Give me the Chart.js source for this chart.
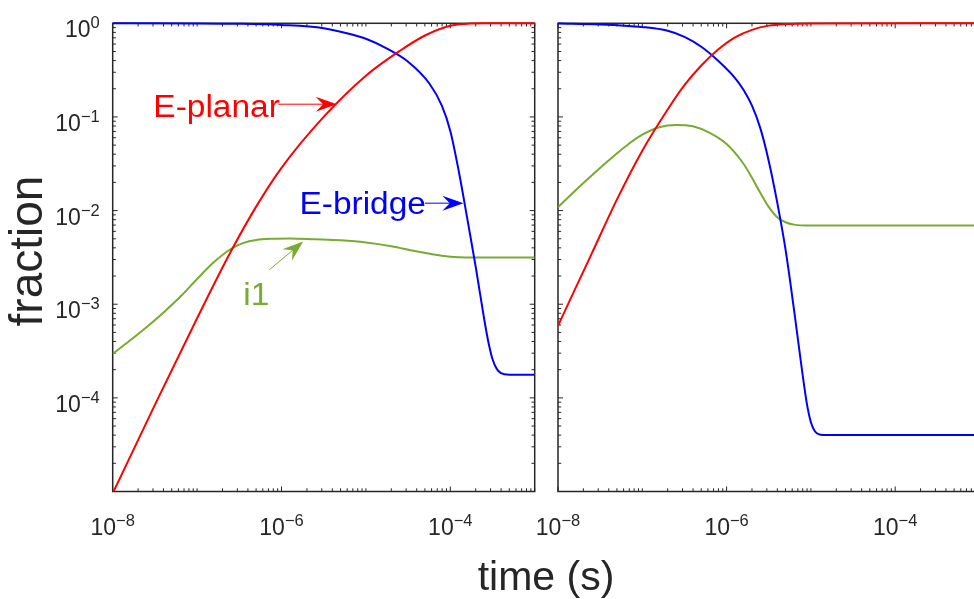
<!DOCTYPE html>
<html>
<head>
<meta charset="utf-8">
<script src="https://cdn.jsdelivr.net/npm/chart.js@4.4.1/dist/chart.umd.min.js"></script>
<style>
  html, body { margin: 0; padding: 0; overflow: hidden; background: #fff; width: 974px; height: 599px; }
  canvas { position: absolute; top: 0; }
  #left { left: 0; }
  #right { left: 520px; }
</style>
</head>
<body>
<canvas id="left" width="974" height="599"></canvas>
<canvas id="right" width="470" height="599"></canvas>
<script>
// tick labels (powers of ten)
const xTickExps = [-8, -6, -4];
const yTickExps = [0, -1, -2, -3, -4];

// left panel
const planarT1 = [1e-8, 3.16e-8, 1e-7, 2.51e-7, 5.01e-7, 1e-6, 3.16e-6, 1e-5, 2.51e-5, 5.01e-5, 1e-4, 1.585e-4, 2.51e-4, 1e-3];
const planarF1 = [9.55e-6, 8.41e-5, 7.08e-4, 3.65e-3, 0.01102, 0.02858, 0.1, 0.2754, 0.5058, 0.741, 0.9419, 0.9886, 1, 1];
const bridgeT1 = [1e-8, 1e-7, 3.16e-7, 1e-6, 3.16e-6, 5.62e-6, 1e-5, 1.78e-5, 3.16e-5, 5.62e-5, 7.94e-5, 1e-4, 1.26e-4, 1.585e-4, 2e-4, 2.51e-4, 2.82e-4, 3.16e-4, 3.55e-4, 3.98e-4, 5.01e-4, 1e-3];
const bridgeF1 = [1, 0.998, 0.989, 0.959, 0.887, 0.794, 0.684, 0.537, 0.389, 0.229, 0.132, 0.0708, 0.0263, 8.32e-3, 2.51e-3, 7.08e-4, 3.98e-4, 2.6e-4, 2.04e-4, 1.84e-4, 1.77e-4, 1.77e-4];
const i1T1 = [1e-8, 1.585e-8, 2.51e-8, 3.98e-8, 6.31e-8, 1e-7, 1.585e-7, 2.51e-7, 3.55e-7, 5.01e-7, 7.94e-7, 1.26e-6, 2.51e-6, 5.01e-6, 1e-5, 2e-5, 3.98e-5, 7.94e-5, 1.26e-4, 2e-4, 1e-3];
const i1F1 = [2.95e-4, 4.07e-4, 5.69e-4, 8.13e-4, 1.2e-3, 1.86e-3, 2.82e-3, 3.89e-3, 4.52e-3, 4.86e-3, 5.01e-3, 5.04e-3, 4.93e-3, 4.81e-3, 4.57e-3, 4.17e-3, 3.67e-3, 3.3e-3, 3.18e-3, 3.16e-3, 3.16e-3];

// right panel
const planarT2 = [1e-8, 2.51e-8, 5.01e-8, 1e-7, 2e-7, 3.16e-7, 5.01e-7, 7.94e-7, 1.26e-6, 2e-6, 3.16e-6, 5.01e-6, 1e-5, 1e-3];
const planarF2 = [5.89e-4, 3.47e-3, 0.01318, 0.04365, 0.1202, 0.2188, 0.3548, 0.5248, 0.7079, 0.8511, 0.9441, 0.9817, 0.9977, 1];
const bridgeT2 = [1e-8, 3.16e-8, 1e-7, 2e-7, 3.16e-7, 5.01e-7, 7.94e-7, 1.26e-6, 1.585e-6, 2e-6, 2.51e-6, 3.16e-6, 3.98e-6, 5.01e-6, 6.31e-6, 7.94e-6, 8.91e-6, 1e-5, 1.12e-5, 1.26e-5, 1.585e-5, 1e-3];
const bridgeF2 = [0.9931, 0.9727, 0.912, 0.8318, 0.7161, 0.5623, 0.3981, 0.26, 0.195, 0.1318, 0.0759, 0.0339, 0.0123, 3.8e-3, 8.71e-4, 1.82e-4, 8.91e-5, 5.5e-5, 4.37e-5, 4.07e-5, 4.01e-5, 4.01e-5];
const i1T2 = [1e-8, 1.585e-8, 2.51e-8, 3.98e-8, 6.31e-8, 1e-7, 1.585e-7, 2.51e-7, 3.98e-7, 6.31e-7, 1e-6, 1.585e-6, 2e-6, 2.51e-6, 3.16e-6, 3.98e-6, 5.01e-6, 6.31e-6, 1e-5, 1e-3];
const i1F2 = [0.01086, 0.01622, 0.02371, 0.03428, 0.04842, 0.06457, 0.07762, 0.08222, 0.07943, 0.06761, 0.05129, 0.03162, 0.02239, 0.01549, 0.01096, 8.51e-3, 7.5e-3, 7.08e-3, 6.92e-3, 6.92e-3];

const RED = "#ff0000", BLUE = "#0000ff", GREEN = "#77ac30", AXIS = "#262626";
const FONT = "'Liberation Sans', Arial, sans-serif";

// labels with arrows on the left panel, in data units
const notes = [
  { text: "E-planar", color: RED, at: [3.03e-8, 0.1007], from: [9.16e-7, 0.1368], to: [4.51e-6, 0.1368] },
  { text: "E-bridge", color: BLUE, at: [1.63e-6, 9.23e-3], from: [5.01e-5, 0.012], to: [1.43e-4, 0.012] },
  { text: "i1", color: GREEN, at: [3.52e-7, 9.86e-4], from: [7.16e-7, 2.33e-3], to: [1.81e-6, 4.67e-3] }
];

function series(label, ts, fs, color) {
  return {
    label,
    data: ts.map((t, i) => ({ x: t, y: fs[i] })),
    borderColor: color,
    borderWidth: 2,
    pointRadius: 0,
    fill: false,
    cubicInterpolationMode: "monotone",
    clip: { left: 0, right: 0, top: 3, bottom: 0 }
  };
}

function powLabel(ctx, exp, x, base, align) {
  const sup = exp < 0 ? "\u2212" + (-exp) : String(exp);
  ctx.font = "23px " + FONT;
  const wb = ctx.measureText("10").width;
  ctx.font = "16.5px " + FONT;
  const ws = ctx.measureText(sup).width;
  const left = align === "center" ? x - (wb + ws) / 2 : x - wb - ws;
  ctx.textAlign = "left";
  ctx.textBaseline = "alphabetic";
  ctx.font = "23px " + FONT;
  ctx.fillText("10", left, base);
  ctx.font = "16.5px " + FONT;
  ctx.fillText(sup, left + wb, base - 9);
}

function arrow(ctx, x0, y0, x1, y1, color) {
  const dx = x1 - x0, dy = y1 - y0, d = Math.hypot(dx, dy);
  const ux = dx / d, uy = dy / d, len = 21, w = 7.5;
  ctx.strokeStyle = color;
  ctx.fillStyle = color;
  ctx.lineWidth = 1;
  ctx.beginPath();
  ctx.moveTo(x0, y0);
  ctx.lineTo(x1 - ux * len * 0.6, y1 - uy * len * 0.6);
  ctx.stroke();
  ctx.beginPath();
  ctx.moveTo(x1, y1);
  ctx.lineTo(x1 - ux * len - uy * w, y1 - uy * len + ux * w);
  ctx.lineTo(x1 - ux * len * 0.65, y1 - uy * len * 0.65);
  ctx.lineTo(x1 - ux * len + uy * w, y1 - uy * len - ux * w);
  ctx.closePath();
  ctx.fill();
}

const axesPlugin = {
  id: "axesBox",
  beforeDatasetsDraw(chart, args, opts) {
    const { ctx, chartArea: a, scales: { x, y } } = chart;
    ctx.save();
    ctx.strokeStyle = AXIS;
    ctx.lineWidth = 1;
    ctx.beginPath();
    for (let d = -8; d <= -3; d++) {
      for (let m = 1; m < 10; m++) {
        const v = m * Math.pow(10, d);
        if (v > x.max * 1.0001) break;
        const px = x.getPixelForValue(v);
        const len = (m === 1 && xTickExps.includes(d)) ? 5 : 3.2;
        ctx.moveTo(px, a.bottom); ctx.lineTo(px, a.bottom - len);
        ctx.moveTo(px, a.top); ctx.lineTo(px, a.top + len);
      }
    }
    for (let d = -5; d <= 0; d++) {
      for (let m = 1; m < 10; m++) {
        const v = m * Math.pow(10, d);
        if (v > y.max * 1.0001) break;
        const py = y.getPixelForValue(v);
        const len = m === 1 ? 5 : 3.2;
        ctx.moveTo(a.left, py); ctx.lineTo(a.left + len, py);
        if (opts.rightTicks) { ctx.moveTo(a.right, py); ctx.lineTo(a.right - len, py); }
      }
    }
    ctx.stroke();
    ctx.lineWidth = 1.5;
    ctx.strokeRect(a.left, a.top, a.width, a.height);
    ctx.restore();
  },
  afterDraw(chart, args, opts) {
    const { ctx, chartArea: a, scales: { x, y } } = chart;
    ctx.save();
    ctx.fillStyle = AXIS;
    xTickExps.forEach(e => powLabel(ctx, e, x.getPixelForValue(Math.pow(10, e)), a.bottom + 43.5, "center"));
    if (opts.yLabels) {
      yTickExps.forEach(e => powLabel(ctx, e, a.left - 13, y.getPixelForValue(Math.pow(10, e)) + 14, "right"));
    }
    if (opts.titles) {
      ctx.fillStyle = AXIS;
      ctx.font = "41px " + FONT;
      ctx.textAlign = "center";
      ctx.fillText("time (s)", 546, 590);
      ctx.translate(42, 251);
      ctx.rotate(-Math.PI / 2);
      ctx.font = "46px " + FONT;
      ctx.fillText("fraction", 0, 0);
      ctx.setTransform(1, 0, 0, 1, 0, 0);
    }
    if (opts.notes) {
      notes.forEach(n => {
        ctx.fillStyle = n.color;
        ctx.font = "31px " + FONT;
        ctx.textAlign = "left";
        ctx.save();
        ctx.translate(x.getPixelForValue(n.at[0]), y.getPixelForValue(n.at[1]));
        ctx.scale(1.08, 1);
        ctx.fillText(n.text, 0, 0);
        ctx.restore();
        arrow(ctx, x.getPixelForValue(n.from[0]), y.getPixelForValue(n.from[1]),
          x.getPixelForValue(n.to[0]), y.getPixelForValue(n.to[1]), n.color);
      });
    }
    ctx.restore();
  }
};

function makeChart(id, datasets, padding, extra) {
  return new Chart(document.getElementById(id), {
    type: "line",
    data: { datasets },
    options: {
      responsive: false,
      animation: false,
      layout: { padding },
      scales: {
        x: { type: "logarithmic", min: 1e-8, max: 1e-3, display: false },
        y: { type: "logarithmic", min: 1e-5, max: 1, display: false }
      },
      plugins: { legend: { display: false }, tooltip: { enabled: false }, axesBox: extra }
    },
    plugins: [axesPlugin]
  });
}

makeChart("left", [
  series("E-planar", planarT1, planarF1, RED),
  series("E-bridge", bridgeT1, bridgeF1, BLUE),
  series("i1", i1T1, i1F1, GREEN)
], { left: 112.7, right: 439.3, top: 23.3, bottom: 107.5 }, { yLabels: true, titles: true, notes: true, rightTicks: true });

// right canvas starts at x=520, so its plot area begins at 558 (right edge falls outside the window)
makeChart("right", [
  series("E-planar", planarT2, planarF2, RED),
  series("E-bridge", bridgeT2, bridgeF2, BLUE),
  series("i1", i1T2, i1F2, GREEN)
], { left: 38, right: 10.5, top: 23.3, bottom: 107.5 }, { yLabels: false, titles: false, notes: false, rightTicks: false });
</script>
</body>
</html>
